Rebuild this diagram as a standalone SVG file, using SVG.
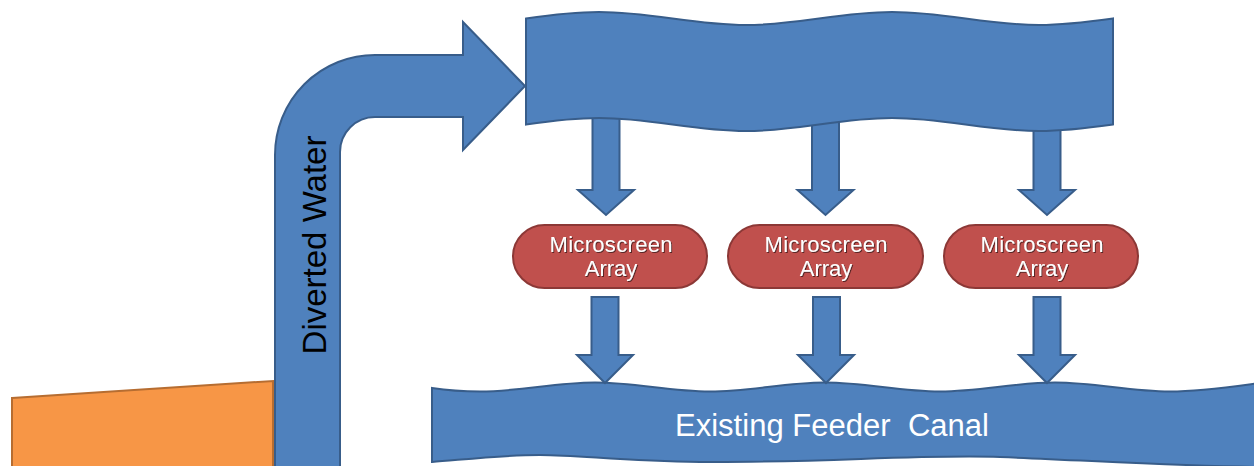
<svg xmlns="http://www.w3.org/2000/svg" width="1254" height="466" viewBox="0 0 1254 466">
<defs>
<style>
.blue{fill:#4F81BD;stroke:#385D8A;stroke-width:2;stroke-linejoin:miter}
.pill{fill:#C0504D;stroke:#8C3836;stroke-width:2}
.orange{fill:#F79646;stroke:#B66D31;stroke-width:2}
.ptxt{font-family:"Liberation Sans",Arial,sans-serif;font-size:22px;fill:#ffffff;text-anchor:middle;filter:url(#sh)}
.ctxt{font-family:"Liberation Sans",Arial,sans-serif;font-size:31px;fill:#ffffff;text-anchor:middle}
.dtxt{font-family:"Liberation Sans",Arial,sans-serif;font-size:33px;fill:#000000;text-anchor:middle}
</style>
<filter id="sh" x="-10%" y="-20%" width="120%" height="150%">
<feDropShadow dx="1" dy="1" stdDeviation="0.6" flood-color="#3a1a1a" flood-opacity="0.8"/>
</filter>
</defs>
<rect width="1254" height="466" fill="#ffffff"/>

<g id="source">
<path class="orange" d="M12,398 L273,381 L273,470 L12,470 Z"/>
</g>

<g id="diverted-water">
<path class="blue" d="M275,470 L275,155 A100,100 0 0 1 375,55 L463,55 L463,22 L525,86 L463,150 L463,117 L375,117 A35,35 0 0 0 340,152 L340,470 Z"/>
<text class="dtxt" transform="translate(326,245) rotate(-90)">Diverted Water</text>
</g>

<g id="connectors">
<path class="blue" d="M592.5,110 L619.5,110 L619.5,190 L634,190 L606,215 L578,190 L592.5,190 Z"/>
<path class="blue" d="M812,110 L839,110 L839,190 L853.5,190 L825.5,215 L797.5,190 L812,190 Z"/>
<path class="blue" d="M1033.5,110 L1060.5,110 L1060.5,190 L1075,190 L1047,215 L1019,190 L1033.5,190 Z"/>
</g>

<g id="distribution">
<path class="blue" d="M526,18.5 C550,15 575,12 599,12 C652,12 693,25 746,25 C799,25 839,12 892,12 C945,12 986,25 1039,25 C1063,25 1088,22 1113,18.5 L1113,124.5 C1088,128 1063,131 1039,131 C986,131 945,118 892,118 C839,118 799,131 746,131 C693,131 652,118 599,118 C575,118 550,121 526,124.5 Z"/>
</g>

<g id="canal">
<path class="blue" d="M432,388 C445,390 465,391.5 480,391.5 C521,391.5 554,382.5 595,382.5 C636,382.5 669,391.5 710,391.5 C751,391.5 784,382.5 825,382.5 C866,382.5 899,391.5 940,391.5 C981,391.5 1014,382.5 1055,382.5 C1096,382.5 1129,391.5 1170,391.5 C1200,391.5 1230,387 1260,383 L1260,467 C1180,466 1100,461 1000,457 C920,454 820,463 700,462 C620,461 580,455 540,455 C500,455 460,460 432,462 Z"/>
<text class="ctxt" x="832" y="436" textLength="314" xml:space="preserve">Existing Feeder  Canal</text>
</g>

<g id="screen-1">
<rect class="pill" x="513" y="225" width="194" height="63" rx="31.5"/>
<text class="ptxt" x="611" y="252" textLength="123">Microscreen</text>
<text class="ptxt" x="611" y="276">Array</text>
</g>
<g id="screen-2">
<rect class="pill" x="728" y="225" width="195" height="63" rx="31.5"/>
<text class="ptxt" x="826" y="252" textLength="123">Microscreen</text>
<text class="ptxt" x="826" y="276">Array</text>
</g>
<g id="screen-3">
<rect class="pill" x="944" y="225" width="194" height="63" rx="31.5"/>
<text class="ptxt" x="1042" y="252" textLength="123">Microscreen</text>
<text class="ptxt" x="1042" y="276">Array</text>
</g>

<g id="connectors-lower">
<path class="blue" d="M591.5,297 L618.5,297 L618.5,355 L633,355 L605,383 L577,355 L591.5,355 Z"/>
<path class="blue" d="M813,297 L840,297 L840,355 L854,355 L826,383 L798,355 L813,355 Z"/>
<path class="blue" d="M1033.5,297 L1060.5,297 L1060.5,355 L1075,355 L1047,383 L1019,355 L1033.5,355 Z"/>
</g>
</svg>
